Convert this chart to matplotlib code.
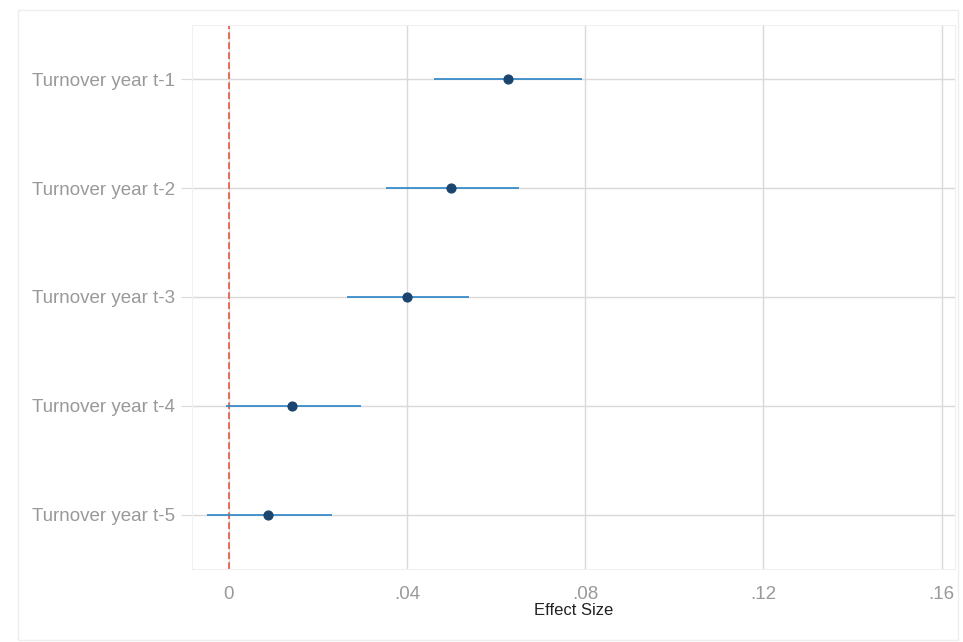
import matplotlib.pyplot as plt
from matplotlib.patches import Rectangle

plt.rcParams['font.family'] = ['Liberation Sans', 'DejaVu Sans']

labels = ["Turnover year t-1", "Turnover year t-2", "Turnover year t-3",
          "Turnover year t-4", "Turnover year t-5"]
est = [0.0627, 0.0499, 0.0400, 0.0142, 0.0088]
lo = [0.0461, 0.0353, 0.0265, -0.0007, -0.0049]
hi = [0.0793, 0.0652, 0.0539, 0.0297, 0.0231]
xticks = [0, 0.04, 0.08, 0.12, 0.16]
xticklabels = ["0", ".04", ".08", ".12", ".16"]

fig = plt.figure(figsize=(9.63, 6.42), dpi=100)
fig.patches.append(Rectangle((18/963, 0.003), 940/963, 1 - 10/642 - 0.003,
                             transform=fig.transFigure, fill=False,
                             edgecolor="#eeeeee", lw=1))
ax = fig.add_axes([192/963, 1 - 569/642, (955-192)/963, (569-25)/642])

y = list(range(1, len(labels) + 1))
for v in xticks:
    ax.axvline(v, color="#d9d9d9", lw=1, zorder=0)
for yy in y:
    ax.axhline(yy, color="#d9d9d9", lw=1, zorder=0)
ax.axvline(0, color="#e8553a", lw=1.2, ls=(0, (4, 2)), zorder=1)
ax.hlines(y, lo, hi, color="#2a86c6", lw=1.2, zorder=2)
ax.scatter(est, y, color="#1b456e", s=40, zorder=3)

ax.set_xlim(-0.0083, 0.163)
ax.set_ylim(5.5, 0.5)
ax.set_yticks(y)
ax.set_yticklabels(labels)
ax.set_xticks(xticks)
ax.set_xticklabels(xticklabels)
ax.tick_params(colors="#999999", labelsize=13.5, length=0, pad=12)
ax.tick_params(axis="y", length=8, color="#d9d9d9", pad=4)
for s in ax.spines.values():
    s.set_color("#f0f0f0")
ax.set_xlabel("Effect Size", fontsize=12, color="#222222", labelpad=0)

fig.savefig("out.png", dpi=100)
